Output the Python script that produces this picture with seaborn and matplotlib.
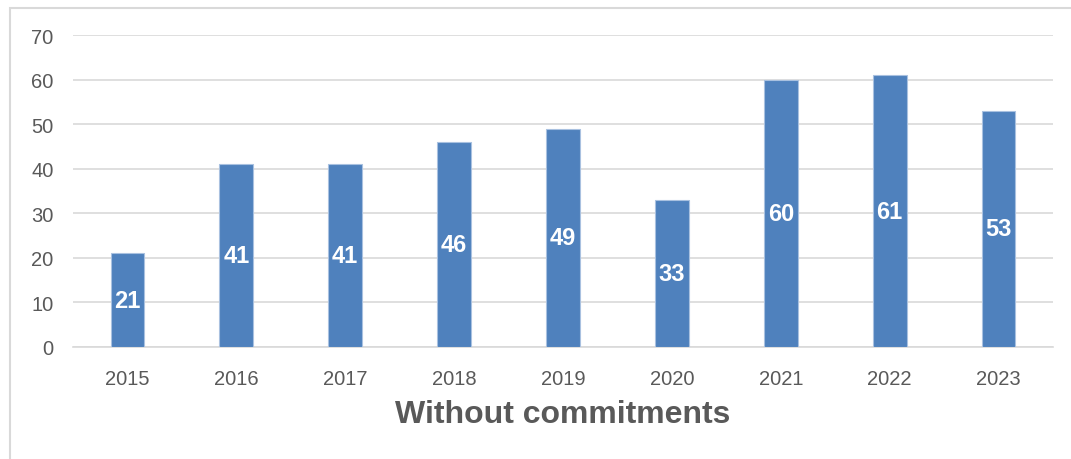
import matplotlib
matplotlib.use("Agg")
import matplotlib.pyplot as plt
from matplotlib.patches import Rectangle
import seaborn as sns
import pandas as pd

years = ["2015", "2016", "2017", "2018", "2019", "2020", "2021", "2022", "2023"]
counts = [21, 41, 41, 46, 49, 33, 60, 61, 53]
y_ticks = [0, 10, 20, 30, 40, 50, 60, 70]

sns.set_theme(style="white")
plt.rcParams["font.family"] = ["Liberation Sans", "DejaVu Sans"]

df = pd.DataFrame({"year": years, "count": counts})

fig = plt.figure(figsize=(10.71, 4.60), dpi=100)
ax = fig.add_axes([73 / 1071, 1 - 348 / 460, (1053 - 73) / 1071, (348 - 36) / 460])

# outer chart frame (left and top edges visible)
fig.patches.append(Rectangle((10 / 1071, -0.1), 1.2, 1.1 - 9 / 460, transform=fig.transFigure,
                             fill=False, edgecolor="#d9d9d9", linewidth=1.5, zorder=0))

sns.barplot(data=df, x="year", y="count", color="#4f81bd", saturation=1, width=0.31,
            edgecolor="#a9c1e0", linewidth=0.8, ax=ax, zorder=3)

for i, v in enumerate(counts):
    ax.text(i, v / 2, str(v), ha="center", va="center", color="white",
            fontsize=17, fontweight="bold", zorder=4)

ax.set_ylim(0, 70)
ax.set_yticks(y_ticks)
ax.set_xlim(-0.5, len(years) - 0.5)
ax.grid(axis="y", color="#d9d9d9", linewidth=1.2, zorder=0)
ax.grid(axis="x", visible=False)
for s in ["top", "right", "left"]:
    ax.spines[s].set_visible(False)
ax.spines["bottom"].set_color("#d9d9d9")
ax.spines["bottom"].set_linewidth(1.2)
ax.tick_params(axis="y", length=0, pad=14, labelsize=14.5, labelcolor="#595959")
ax.tick_params(axis="x", length=0, pad=16, labelsize=14.5, labelcolor="#595959")
ax.set_ylabel("")
ax.set_xlabel("Without commitments", fontsize=23, fontweight="bold", color="#595959", labelpad=8)

fig.savefig("out.png", dpi=100)
